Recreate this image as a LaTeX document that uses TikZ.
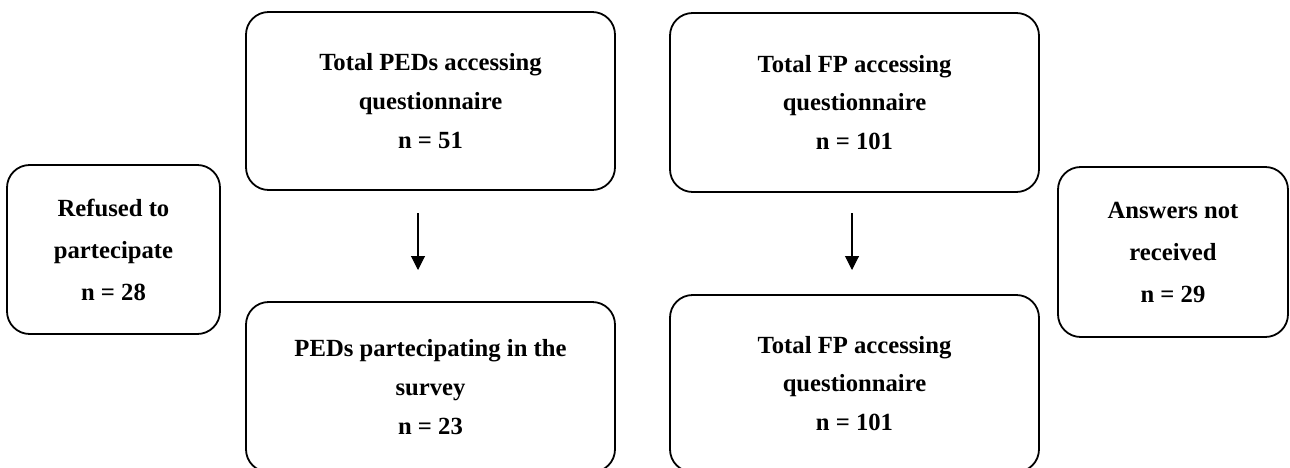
\documentclass[tikz,border=0pt]{standalone}
\usepackage{fontspec}
\setmainfont{Liberation Serif}
\usetikzlibrary{arrows.meta}
\begin{document}
\begin{tikzpicture}[x=0.75pt,y=-0.75pt,
  box/.style={draw, line width=1.35pt, rounded corners=17pt, align=center,
    font=\fontsize{18.5}{29}\selectfont\bfseries, inner sep=0pt},
  sidebox/.style={box, font=\fontsize{18.5}{31.5}\selectfont\bfseries},
  flow/.style={-{Triangle[width=10.5pt,length=10.5pt]}, line width=0.8pt}]
\useasboundingbox (0,0) rectangle (1290,468);
\clip (0,0) rectangle (1290,468);
\node[sidebox, minimum width=159.75pt, minimum height=126.75pt] (refused) at (113.5,249.5)
  {Refused to\\partecipate\\n = 28};
\node[box, minimum width=276.75pt, minimum height=133.5pt] (pedtot) at (430.5,101)
  {Total PEDs accessing\\questionnaire\\n = 51};
\node[box, minimum width=276.75pt, minimum height=127.5pt] (pedpart) at (430.5,387)
  {PEDs partecipating in the\\survey\\n = 23};
\node[box, minimum width=276.75pt, minimum height=134.25pt] (fptot) at (854.5,102.5)
  {Total FP accessing\\questionnaire\\n = 101};
\node[box, minimum width=276.75pt, minimum height=132.75pt] (fppart) at (854.5,383.5)
  {Total FP accessing\\questionnaire\\n = 101};
\node[sidebox, minimum width=172.5pt, minimum height=127.5pt] (notrec) at (1173,252)
  {Answers not\\received\\n = 29};
\coordinate (pa1) at (418,213);
\coordinate (pa2) at (418,270);
\coordinate (fa1) at (852,213);
\coordinate (fa2) at (852,270);
\draw[flow] (pa1) -- (pa2);
\draw[flow] (fa1) -- (fa2);
\end{tikzpicture}
\end{document}
